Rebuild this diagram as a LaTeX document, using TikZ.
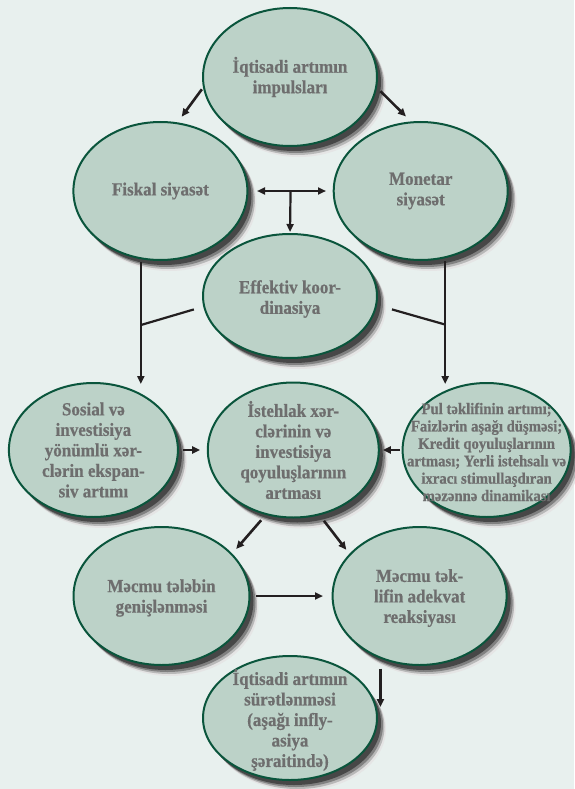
\documentclass[tikz,border=0pt]{standalone}
\usepackage{fontspec}
\setmainfont{Liberation Serif}
\newfontfamily\ovalfont{Liberation Serif Bold}[FakeStretch=0.92, FakeBold=0.6]
\usetikzlibrary{shapes.geometric,arrows.meta,shadows,calc}
\definecolor{bgcol}{HTML}{E8F0EE}
\definecolor{ovalfill}{HTML}{BCD2C8}
\definecolor{ovaldraw}{HTML}{0A553C}
\definecolor{txtgray}{HTML}{6E6E6E}
\definecolor{arrcol}{HTML}{231F20}
\begin{document}
\begin{tikzpicture}
[
    x=1pt, y=-1pt,
    >={Triangle[length=8pt,width=7pt]},
    oval/.style={ellipse, draw=ovaldraw, fill=ovalfill, line width=2pt, inner sep=0pt,
        minimum width=174pt, minimum height=138pt,
        drop shadow={shadow xshift=9pt, shadow yshift=-11pt, fill=black!10, opacity=1},
        drop shadow={shadow xshift=7.5pt, shadow yshift=-9pt, fill=black!28, opacity=1},
        drop shadow={shadow xshift=6pt, shadow yshift=-7pt, fill=black!50, opacity=1},
        drop shadow={shadow xshift=4pt, shadow yshift=-5pt, fill=black!72, opacity=1}},
    txt/.style={align=center, text=txtgray, font=\ovalfont\fontsize{18.5}{20.5}\selectfont},
    small/.style={align=center, text=txtgray, font=\ovalfont\fontsize{16}{17.4}\selectfont},
    arr/.style={draw=arrcol, line width=2.6pt, ->},
    bar/.style={draw=arrcol, line width=2.6pt},
]
\fill[bgcol] (0,0) rectangle (574,789);
\useasboundingbox (0,0) rectangle (574,789);

\node[oval, label={[txt]center:İqtisadi artımın\\impulsları}] (imp) at (290,77) {};
\node[oval, label={[txt]center:Fiskal siyasət}] (fisk) at (160.4,191) {};
\node[oval, label={[txt]center:Monetar\\siyasət}] (mon) at (420.7,191) {};
\node[oval, minimum height=124pt,
    label={[txt, yshift=-3pt]center:Effektiv koor-\\dinasiya}] (eff) at (290,296) {};
\node[oval, minimum width=169pt, minimum height=134pt,
    label={[txt]center:Sosial və\\investisiya\\yönümlü xər-\\clərin ekspan-\\siv artımı}] (sos) at (93.4,450) {};
\node[oval, minimum width=171pt, minimum height=135pt,
    label={[txt]center:İstehlak xər-\\clərinin və\\investisiya\\qoyuluşlarının\\artması}] (ist) at (293.3,450) {};
\node[oval, minimum width=168pt, minimum height=134pt,
    label={[small, yshift=-2pt]center:Pul təklifinin artımı;\\Faizlərin aşağı düşməsi;\\Kredit qoyuluşlarının\\artması; Yerli istehsalı və\\ixracı stimullaşdıran\\məzənnə dinamikası}] (pul) at (486.6,450) {};
\node[oval, minimum width=176pt,
    label={[txt, yshift=-2pt]center:Məcmu tələbin\\genişlənməsi}] (mtl) at (161.5,596) {};
\node[oval, label={[txt, yshift=-2pt]center:Məcmu tək-\\lifin adekvat\\reaksiyası}] (mtk) at (419.6,596) {};
\node[oval, minimum height=124pt,
    label={[txt, yshift=-2pt]center:İqtisadi artımın\\sürətlənməsi\\(aşağı infly-\\asiya\\şəraitində)}] (out) at (290,718) {};

\draw[arr, shorten <=2pt, shorten >=7pt] (imp.187) -- (fisk.76);
\draw[arr, shorten <=5pt, shorten >=7pt] (imp.353) -- (mon.98);
\draw[arr, <->, shorten <=8.6pt, shorten >=6.7pt] (fisk.east) -- (mon.west) coordinate[midway] (fm);
\draw[arr, line width=2.2pt, shorten >=1pt] (fm) -- (eff.north);

\coordinate (jl) at ($(fisk.254)!0.536!(fisk.254 |- sos.north)$);
\coordinate (jr) at ($(mon.290)!0.536!(mon.290 |- pul.north)$);
\draw[arr, line width=2.2pt, shorten <=3pt, shorten >=-2pt] (fisk.254) -- (fisk.254 |- sos.north);
\draw[bar, line width=2.2pt, shorten <=9.8pt] (eff.187) -- (jl);
\draw[arr, line width=2.2pt, shorten <=3pt, shorten >=-2pt] (mon.290) -- (mon.290 |- pul.north);
\draw[bar, line width=2.2pt, shorten <=15.5pt] (eff.354) -- (jr);

\draw[arr, shorten <=4.4pt, shorten >=6.6pt] (sos.east) -- (ist.west);
\draw[arr, shorten <=1.6pt, shorten >=3pt] (pul.west) -- (ist.east);
\draw[arr, shorten <=7pt, shorten >=6pt] (ist.247) -- (mtl.31);
\draw[arr, shorten <=7pt, shorten >=5pt] (ist.292) -- (mtk.149);
\draw[arr, shorten <=5.5pt, shorten >=8.6pt] (mtl.east) -- (mtk.west);
\draw[arr, shorten <=10pt, shorten >=11pt] (mtk.238) -- (mtk.238 |- out.east);
\end{tikzpicture}
\end{document}
